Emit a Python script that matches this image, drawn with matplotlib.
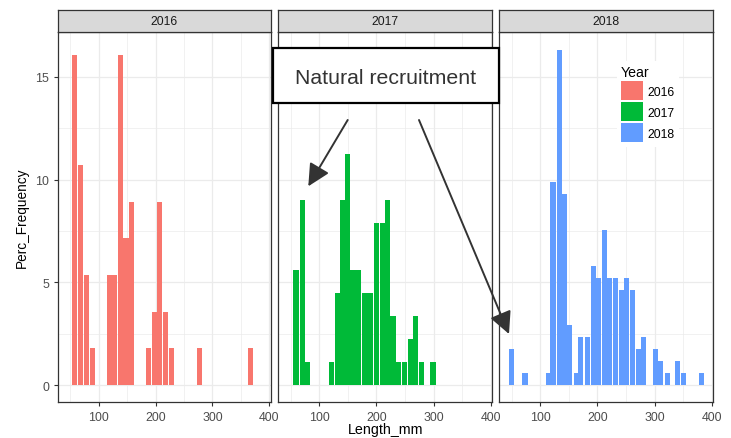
import matplotlib
matplotlib.use("Agg")
import matplotlib.pyplot as plt
from matplotlib.patches import Patch, Rectangle, FancyArrowPatch
from matplotlib.ticker import MultipleLocator

plt.rcParams['font.family'] = ['Liberation Sans', 'DejaVu Sans']

years = ["2016", "2017", "2018"]
colors = ["#F8766D", "#00BA38", "#619CFF"]

len_2016 = [58, 68, 78, 89, 119, 128, 138, 148, 157, 188, 198, 207, 218, 228, 278, 367]
pct_2016 = [16.07, 10.71, 5.36, 1.79, 5.36, 5.36, 16.07, 7.14, 8.93, 1.79, 3.57, 8.93, 3.57, 1.79, 1.79, 1.79]

len_2017 = [59, 71, 79, 121, 131, 140, 150, 159, 169, 180, 189, 200, 211, 219, 229, 239, 249, 260, 269, 279, 299]
pct_2017 = [5.62, 8.99, 1.12, 1.12, 4.49, 8.99, 11.24, 5.62, 5.62, 4.49, 4.49, 7.87, 7.87, 8.99, 3.37,
            1.12, 1.12, 2.25, 3.37, 1.12, 1.12]

len_2018 = [50, 73, 114, 122, 133, 142, 151, 163, 171, 182, 193, 202, 212, 221, 231, 242, 251, 261, 272,
            281, 302, 311, 322, 341, 351, 382]
pct_2018 = [1.74, 0.58, 0.58, 9.88, 16.28, 9.30, 2.91, 0.58, 2.33, 2.33, 5.81, 5.23, 7.56, 5.23, 5.23,
            4.65, 5.23, 4.65, 1.74, 2.33, 1.74, 1.16, 0.58, 1.16, 0.58, 0.58]

lengths = [len_2016, len_2017, len_2018]
pcts = [pct_2016, pct_2017, pct_2018]

W, H = 731, 439
fig = plt.figure(figsize=(W / 100, H / 100), dpi=100)

def fx(x):
    return x / W

def fy(y):
    return 1 - y / H

panel_x = [(57.7, 271.0), (278.3, 492.3), (499.3, 713.3)]
top, bottom = 32.7, 403.0
strip_top = 10.7
dark = "#333333"
axes = []
for i, (x0, x1) in enumerate(panel_x):
    ax = fig.add_axes([fx(x0), fy(bottom), (x1 - x0) / W, (bottom - top) / H])
    ax.bar(lengths[i], pcts[i], width=9, color=colors[i], linewidth=0, zorder=2)
    ax.set_xlim(28, 403)
    ax.set_ylim(-0.82, 17.19)
    ax.xaxis.set_major_locator(MultipleLocator(100))
    ax.xaxis.set_minor_locator(MultipleLocator(50))
    ax.yaxis.set_major_locator(MultipleLocator(5))
    ax.yaxis.set_minor_locator(MultipleLocator(2.5))
    ax.grid(which='major', color='#EBEBEB', linewidth=0.9, zorder=0)
    ax.grid(which='minor', color='#EBEBEB', linewidth=0.5, zorder=0)
    ax.set_axisbelow(True)
    for s in ax.spines.values():
        s.set_color(dark)
        s.set_linewidth(0.9)
    ax.tick_params(which='major', length=3.2, width=0.8, color=dark, labelcolor='#4D4D4D',
                   labelsize=8.9, pad=3)
    ax.tick_params(axis='x', which='major', pad=3.2)
    ax.tick_params(which='minor', length=0)
    if i > 0:
        ax.tick_params(axis='y', which='both', left=False, labelleft=False)
    # strip
    sax = fig.add_axes([fx(x0), fy(top), (x1 - x0) / W, (top - strip_top) / H])
    sax.set_facecolor('#D9D9D9')
    sax.set_xticks([])
    sax.set_yticks([])
    for s in sax.spines.values():
        s.set_color(dark)
        s.set_linewidth(0.9)
    sax.text(0.5, 0.5, years[i], ha='center', va='center', fontsize=8.7, color='#1A1A1A',
             transform=sax.transAxes)
    axes.append(ax)

fig.text(fx(385.5), fy(434.3), "Length_mm", ha='center', va='baseline', fontsize=10.3, color='black')
fig.text(fx(21.7), fy(218), "Perc_Frequency", ha='center', va='center', rotation=90,
         fontsize=9.8, color='black')

# legend
handles = [Patch(facecolor=c, edgecolor='none') for c in colors]
leg = axes[2].legend(handles, years, title="Year", loc='upper left',
                     bbox_to_anchor=(fx(616.8), fy(62)), bbox_transform=fig.transFigure,
                     fontsize=8.7, title_fontsize=10.2, frameon=True, fancybox=False,
                     borderpad=0.35, handlelength=1.8, handleheight=2.04, handletextpad=0.38,
                     labelspacing=0.17, alignment='left', borderaxespad=0)
leg.get_frame().set_facecolor('white')
leg.get_frame().set_edgecolor('none')
leg.get_frame().set_alpha(1)

# annotation box
bx0, by0, bx1, by1 = 273.3, 49.3, 498.7, 104.3
rect = Rectangle((fx(bx0), fy(by1)), (bx1 - bx0) / W, (by1 - by0) / H, transform=fig.transFigure,
                 facecolor='white', edgecolor='black', linewidth=1.6, zorder=10)
fig.add_artist(rect)
fig.text(fx(386), fy(78), "Natural recruitment", ha='center', va='center', fontsize=15.3,
         color='#333333', zorder=11)

for (sx, sy, ex, ey) in [(347.7, 121, 308.3, 187.3), (419, 121, 509, 335)]:
    arr = FancyArrowPatch((fx(sx), fy(sy)), (fx(ex), fy(ey)), transform=fig.transFigure,
                          arrowstyle='-|>,head_length=0.9,head_width=0.45', mutation_scale=15,
                          color='#333333', linewidth=1.4, shrinkA=0, shrinkB=0, zorder=12)
    fig.add_artist(arr)

fig.savefig("out.png", dpi=100)
